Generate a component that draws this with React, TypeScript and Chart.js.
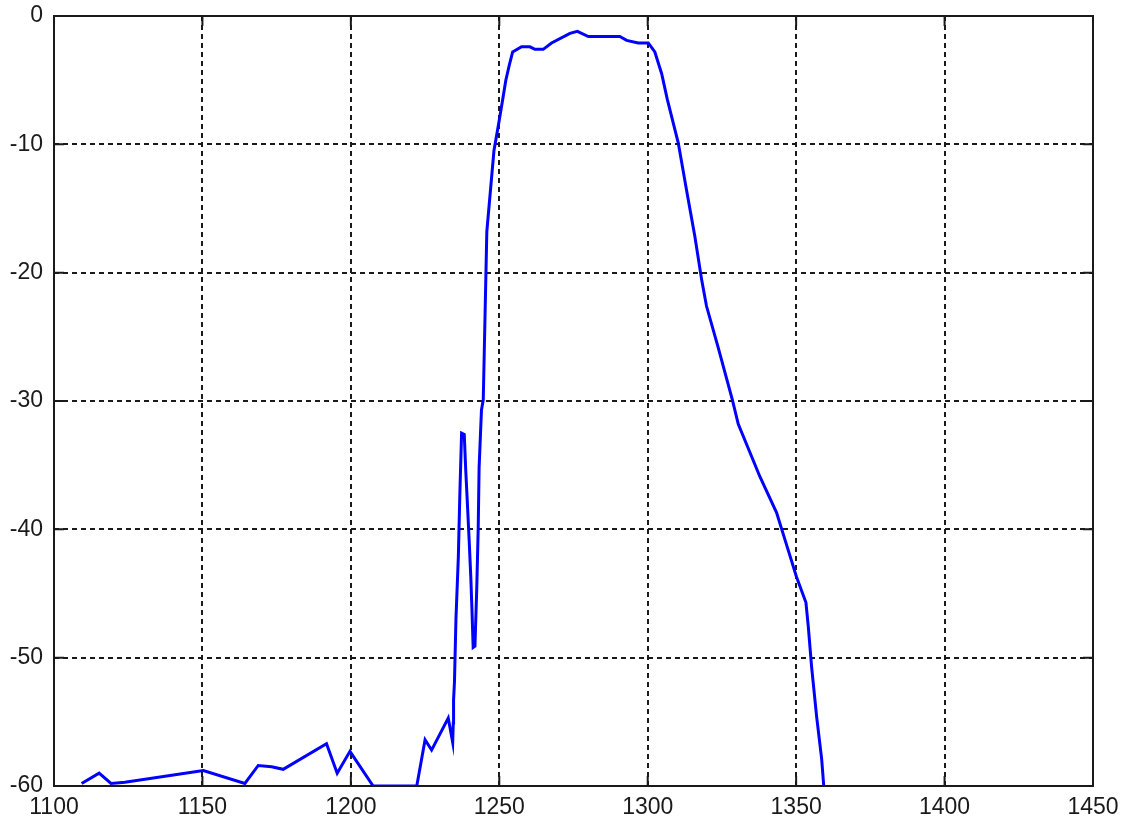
import React, { useEffect, useRef } from "react";
import { Chart, registerables } from "chart.js";

Chart.register(...registerables);

const xValues: number[] = [
  1109.3, 1115.2, 1119.2, 1123.9, 1150.3, 1164.3, 1168.8, 1173.3, 1177.2, 1191.8,
  1195.4, 1199.7, 1207.5, 1222.2, 1225.0, 1227.2, 1232.8, 1234.3, 1234.5, 1234.6,
  1234.9, 1235.4, 1236.2, 1236.7, 1237.3, 1238.2, 1238.7, 1239.3, 1239.9, 1240.4,
  1240.8, 1241.2, 1241.8, 1242.4, 1242.9, 1243.2, 1244.0, 1244.6, 1245.8, 1248.2,
  1250.0, 1251.3, 1252.2, 1253.4, 1254.5, 1257.5, 1260.3, 1262.0, 1264.8, 1267.6,
  1273.8, 1276.3, 1280.0, 1290.6, 1292.9, 1296.8, 1300.2, 1302.4, 1304.7, 1306.6,
  1310.3, 1313.1, 1315.9, 1318.2, 1319.8, 1323.7, 1328.5, 1330.5, 1337.8, 1343.4,
  1347.3, 1350.1, 1353.3, 1354.1, 1355.2, 1356.9, 1358.6, 1359.3,
];

const yValues: number[] = [
  -59.8, -59.0, -59.8, -59.7, -58.8, -59.8, -58.4, -58.5, -58.7, -56.7,
  -59.0, -57.3, -60.0, -60.0, -56.4, -57.2, -54.7, -56.6, -55.1, -53.3,
  -51.9, -47.0, -42.2, -37.4, -32.5, -32.6, -35.4, -38.2, -41.1, -43.7,
  -46.3, -49.2, -49.1, -44.7, -39.9, -35.2, -30.7, -29.9, -16.8, -10.5,
  -8.1, -6.3, -5.0, -3.8, -2.8, -2.4, -2.4, -2.6, -2.6, -2.1,
  -1.35, -1.2, -1.6, -1.6, -1.9, -2.1, -2.1, -2.8, -4.5, -6.5,
  -9.9, -13.6, -17.2, -20.6, -22.6, -25.8, -29.9, -31.8, -35.9, -38.7,
  -41.6, -43.7, -45.7, -47.6, -50.7, -54.6, -57.9, -60.0,
];

const xMin = 1100;
const xMax = 1450;
const xStep = 50;
const yMin = -60;
const yMax = 0;
const yStep = 10;

const boxPlugin = {
  id: "matlabBox",
  afterDraw(chart: any) {
    const { ctx, chartArea } = chart;
    const { left, right, top, bottom } = chartArea;
    const xs = chart.scales.x;
    const ys = chart.scales.y;
    const tl = 10;
    ctx.save();
    ctx.strokeStyle = "#1a1a1a";
    ctx.lineWidth = 2;
    ctx.setLineDash([]);
    ctx.strokeRect(left, top, right - left, bottom - top);
    ctx.beginPath();
    xs.ticks.forEach((t: any) => {
      const px = xs.getPixelForValue(t.value);
      ctx.moveTo(px, bottom);
      ctx.lineTo(px, bottom - tl);
      ctx.moveTo(px, top);
      ctx.lineTo(px, top + tl);
    });
    ys.ticks.forEach((t: any) => {
      const py = ys.getPixelForValue(t.value);
      ctx.moveTo(left, py);
      ctx.lineTo(left + tl, py);
      ctx.moveTo(right, py);
      ctx.lineTo(right - tl, py);
    });
    ctx.stroke();
    ctx.restore();
  },
};

export default function App() {
  const ref = useRef<HTMLCanvasElement | null>(null);

  useEffect(() => {
    if (!ref.current) return;
    const data = xValues.map((x, i) => ({ x, y: yValues[i] }));
    const font = { family: "'Liberation Sans', Arial, sans-serif", size: 23 };
    const plain = (v: any) => String(v);
    const chart = new Chart(ref.current, {
      type: "line",
      data: {
        datasets: [
          {
            data,
            borderColor: "#0000ff",
            borderWidth: 3,
            pointRadius: 0,
            tension: 0,
            fill: false,
          },
        ],
      },
      options: {
        responsive: false,
        animation: false,
        devicePixelRatio: 1,
        layout: { padding: { top: 16, right: 39, left: 0, bottom: 0 } },
        plugins: { legend: { display: false }, tooltip: { enabled: false } },
        scales: {
          x: {
            type: "linear",
            min: xMin,
            max: xMax,
            afterFit: (s: any) => {
              s.height = 39;
              s.paddingLeft = 0;
              s.paddingRight = 0;
            },
            ticks: { stepSize: xStep, color: "#1a1a1a", font, padding: 8, maxRotation: 0, callback: plain },
            grid: { color: "#1a1a1a", lineWidth: 2, drawTicks: false },
            border: { display: false, dash: [5, 4] },
          },
          y: {
            type: "linear",
            min: yMin,
            max: yMax,
            afterFit: (s: any) => {
              s.width = 54;
              s.paddingTop = 0;
              s.paddingBottom = 0;
            },
            ticks: { stepSize: yStep, color: "#1a1a1a", font, padding: 11, callback: plain },
            grid: { color: "#1a1a1a", lineWidth: 2, drawTicks: false },
            border: { display: false, dash: [5, 4] },
          },
        },
      },
      plugins: [boxPlugin],
    });
    return () => chart.destroy();
  }, []);

  return (
    <div style={{ position: "absolute", left: 0, top: 0, width: 1132, height: 825, background: "#fff" }}>
      <canvas ref={ref} width={1132} height={825} style={{ display: "block" }} />
    </div>
  );
}
